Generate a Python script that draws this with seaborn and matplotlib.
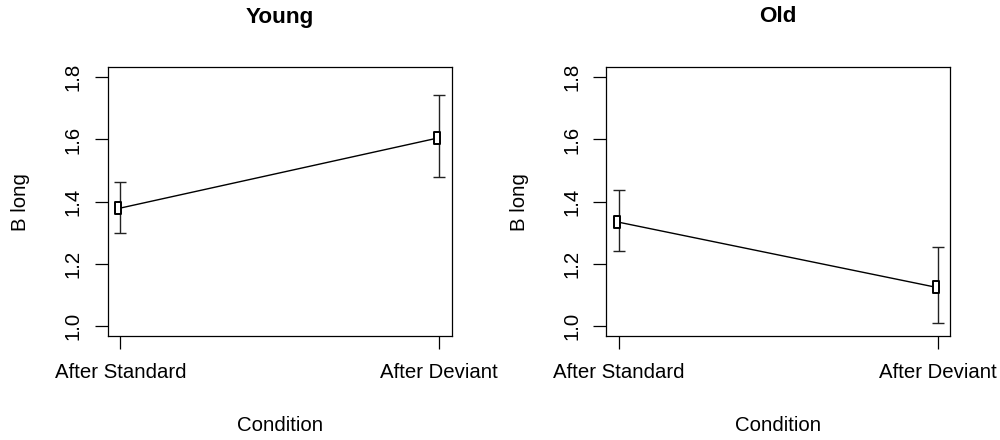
import numpy as np
import pandas as pd
import matplotlib
matplotlib.use("Agg")
import matplotlib.pyplot as plt
import matplotlib.transforms as mtransforms
from matplotlib.path import Path
import seaborn as sns

# Group means with lower/upper interval bounds per condition
conditions = ["After Standard", "After Deviant"]
groups = ["Young", "Old"]
young_mean = [1.378, 1.604]
young_lower = [1.300, 1.478]
young_upper = [1.462, 1.744]
old_mean = [1.335, 1.125]
old_lower = [1.242, 1.010]
old_upper = [1.436, 1.253]
y_ticks = [1.0, 1.2, 1.4, 1.6, 1.8]

sns.set_style("ticks")
plt.rcParams["font.family"] = ["Liberation Sans", "DejaVu Sans"]
plt.rcParams.update({
    "text.color": "black",
    "axes.labelcolor": "black",
    "xtick.color": "black",
    "ytick.color": "black",
    "axes.edgecolor": "black",
})

fig = plt.figure(figsize=(10, 4.4), dpi=100)
W, H = 1000, 440
panel_left = [107.7, 606.3]
pw, top, bottom = 344.0, 67.3, 336.0

# tall open rectangle used as the mean marker
rect_marker = Path([(-0.5, -1), (0.5, -1), (0.5, 1), (-0.5, 1), (-0.5, -1)],
                   [Path.MOVETO, Path.LINETO, Path.LINETO, Path.LINETO, Path.CLOSEPOLY])

series = {
    "Young": (young_mean, young_lower, young_upper),
    "Old": (old_mean, old_lower, old_upper),
}

fs = 14.7
for i, g in enumerate(groups):
    ax = fig.add_axes([panel_left[i] / W, 1 - bottom / H, pw / W, (bottom - top) / H])
    mean, lo, hi = series[g]
    df = pd.DataFrame({"pos": [1, 2], "mean": mean, "lo": lo, "hi": hi})

    shift = mtransforms.ScaledTranslation(-2 / 100, 0, fig.dpi_scale_trans)
    sns.lineplot(data=df, x="pos", y="mean", ax=ax, color="black", lw=1.0,
                 marker=rect_marker, markersize=8, markerfacecolor="white",
                 markeredgecolor="black", markeredgewidth=1.4,
                 transform=ax.transData + shift, zorder=3)
    ax.errorbar(df["pos"], df["mean"],
                yerr=[df["mean"] - df["lo"], df["hi"] - df["mean"]],
                fmt="none", ecolor="#222222", elinewidth=1.0, capsize=4.5,
                capthick=1.0, zorder=2)

    ax.set_xlim(0.96, 2.04)
    ax.set_ylim(0.968, 1.832)
    ax.set_xticks([1, 2])
    ax.set_xticklabels(conditions, fontsize=fs)
    ax.set_yticks(y_ticks)
    ax.set_yticklabels([f"{v:.1f}" for v in y_ticks], fontsize=fs,
                       rotation=90, va="center")
    ax.tick_params(axis="both", direction="out", length=9.1, width=0.9,
                   color="black", labelcolor="black")
    ax.tick_params(axis="x", pad=10)
    ax.tick_params(axis="y", pad=9)
    for s in ax.spines.values():
        s.set_linewidth(0.9)
        s.set_color("black")

    ax.set_xlabel("Condition", fontsize=fs, color="black")
    ax.xaxis.set_label_coords(0.5, (bottom - 425) / (bottom - top))
    ax.xaxis.label.set_va("center")
    ax.set_ylabel("B long", fontsize=fs, color="black")
    ax.yaxis.set_label_coords((21 - 107.7) / pw, 0.5)
    ax.yaxis.label.set_va("center")

    fig.text((panel_left[i] + pw / 2) / W, 1 - 17 / H, g, ha="center",
             va="center", fontsize=16.2, fontweight="bold", color="black")

fig.savefig("out.png", dpi=100, facecolor="white")
